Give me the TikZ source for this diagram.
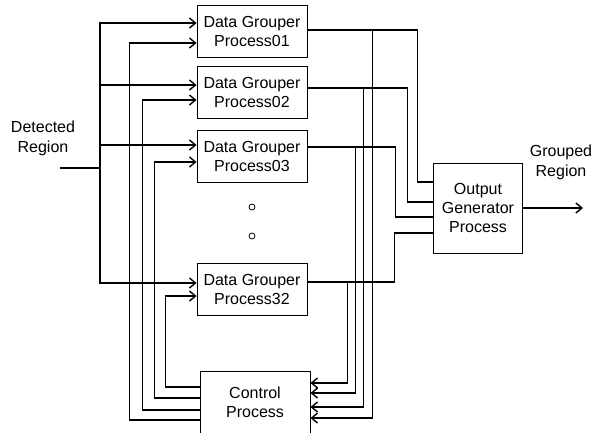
\documentclass[tikz,border=0pt]{standalone}
\usepackage{fontspec}
\setmainfont{Liberation Sans}
\usetikzlibrary{arrows.meta}

\begin{document}
\begin{tikzpicture}[x=1pt,y=-1pt,
    box/.style={draw,line width=0.9pt,align=center,inner sep=0pt,
        font=\fontsize{16}{19}\selectfont},
    lbl/.style={align=center,inner sep=0pt,font=\fontsize{16}{20}\selectfont},
    wire/.style={line width=1.4pt},
    arr/.style={wire,-{Straight Barb[length=6pt,width=10pt,line width=1.4pt]}},
    dot/.style={draw,circle,line width=0.8pt,minimum size=6pt,inner sep=0pt}]
\useasboundingbox (0,0) rectangle (602,432);
% grouper processes
\node[box,minimum width=110pt,minimum height=52pt] (g1) at (252,31) {Data Grouper\\Process01};
\node[box,minimum width=110pt,minimum height=52pt] (g2) at (252,92) {Data Grouper\\Process02};
\node[box,minimum width=110pt,minimum height=52pt] (g3) at (252,156) {Data Grouper\\Process03};
\node[box,minimum width=110pt,minimum height=52pt] (g32) at (252,289) {Data Grouper\\Process32};
\node[dot] (d1) at (252,207) {};
\node[dot] (d2) at (252,236) {};
\node[box,minimum width=110pt,minimum height=62pt] (ctrl) at (255,402) {Control\\Process};
\node[box,minimum width=89pt,minimum height=90pt] (out) at (478,208) {Output\\Generator\\Process};
\node[lbl] (dlbl) at (43,138) {Detected\\Region};
\node[lbl] (glbl) at (561,162) {Grouped\\Region};
\coordinate (din) at (60,168);
\coordinate (gout) at (583,208);
% detected region bus
\draw[arr] (din) -- ++(40,0) |- ([yshift=8pt]g1.west);
\draw[arr] (din) -- ++(40,0) |- ([yshift=7pt]g2.west);
\draw[arr] (din) -- ++(40,0) |- ([yshift=11pt]g3.west);
\draw[arr] (din) -- ++(40,0) |- ([yshift=6pt]g32.west);
% control lines
\draw[arr] ([yshift=-18pt]ctrl.west) -- ++(-70,0) |- ([yshift=-12pt]g1.west);
\draw[arr] ([yshift=-8pt]ctrl.west) -- ++(-57,0) |- ([yshift=-8pt]g2.west);
\draw[arr] ([yshift=4pt]ctrl.west) -- ++(-45,0) |- ([yshift=-6pt]g3.west);
\draw[arr] ([yshift=15pt]ctrl.west) -- ++(-34,0) |- ([yshift=-7pt]g32.west);
% outputs
\draw[wire] ([yshift=1pt]g1.east) -- ++(110,0) |- ([yshift=26pt]out.west);
\draw[wire] ([yshift=4pt]g2.east) -- ++(100,0) |- ([yshift=6pt]out.west);
\draw[wire] ([yshift=9pt]g3.east) -- ++(88,0) |- ([yshift=-9pt]out.west);
\draw[wire] ([yshift=7pt]g32.east) -- ++(87,0) |- ([yshift=-25pt]out.west);
% feedback to control
\draw[arr] ([yshift=1pt]g1.east) -- ++(65,0) |- ([yshift=-16pt]ctrl.east);
\draw[arr] ([yshift=4pt]g2.east) -- ++(56,0) |- ([yshift=-5pt]ctrl.east);
\draw[arr] ([yshift=9pt]g3.east) -- ++(48,0) |- ([yshift=9pt]ctrl.east);
\draw[arr] ([yshift=7pt]g32.east) -- ++(40,0) |- ([yshift=19pt]ctrl.east);
\draw[arr] (out.east) -- (gout);
\end{tikzpicture}
\end{document}
